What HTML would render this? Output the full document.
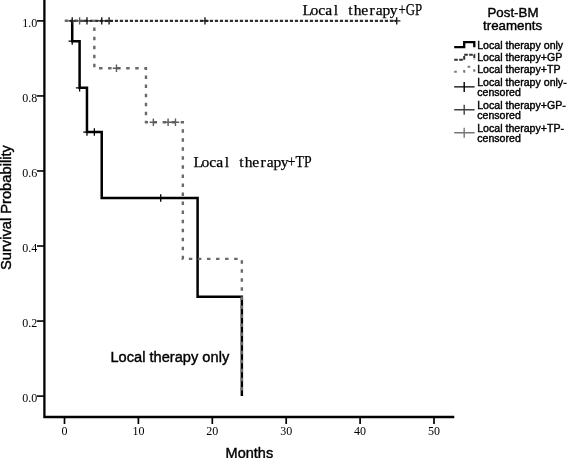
<!DOCTYPE html>
<html><head><meta charset="utf-8"><title>Survival Probability</title>
<style>
html,body{margin:0;padding:0;background:#fff}
svg{display:block}
.tk{font-family:"Liberation Serif","Noto Serif CJK SC",serif;font-size:12px;fill:#000}
.sf{font-family:"Liberation Serif","Noto Serif CJK SC",serif;fill:#000;stroke:#000;stroke-width:0.25px}
.ar{font-family:"Liberation Sans",Arial,sans-serif;fill:#000;stroke:#000;stroke-width:0.4px}
.lg{font-size:10.6px}
</style></head><body>
<svg width="567" height="458" viewBox="0 0 567 458">
<rect width="567" height="458" fill="#fff"/>
<path d="M44.4,0V417H454.3" stroke="#000" stroke-width="2.3" fill="none" stroke-linejoin="miter"/>
<path d="M37,396.1H44" stroke="#000" stroke-width="1.6"/>
<text x="37.2" y="401.90000000000003" text-anchor="end" class="tk">0.0</text>
<path d="M37,321.06H44" stroke="#000" stroke-width="1.6"/>
<text x="37.2" y="326.86" text-anchor="end" class="tk">0.2</text>
<path d="M37,246.02H44" stroke="#000" stroke-width="1.6"/>
<text x="37.2" y="251.82000000000002" text-anchor="end" class="tk">0.4</text>
<path d="M37,170.98H44" stroke="#000" stroke-width="1.6"/>
<text x="37.2" y="176.78" text-anchor="end" class="tk">0.6</text>
<path d="M37,95.94H44" stroke="#000" stroke-width="1.6"/>
<text x="37.2" y="101.74" text-anchor="end" class="tk">0.8</text>
<path d="M37,20.9H44" stroke="#000" stroke-width="1.6"/>
<text x="37.2" y="26.7" text-anchor="end" class="tk">1.0</text>
<path d="M64.5,417.5V424" stroke="#000" stroke-width="1.7"/>
<text x="64.5" y="435.4" text-anchor="middle" class="tk">0</text>
<path d="M138.4,417.5V424" stroke="#000" stroke-width="1.7"/>
<text x="138.4" y="435.4" text-anchor="middle" class="tk">10</text>
<path d="M212.3,417.5V424" stroke="#000" stroke-width="1.7"/>
<text x="212.3" y="435.4" text-anchor="middle" class="tk">20</text>
<path d="M286.2,417.5V424" stroke="#000" stroke-width="1.7"/>
<text x="286.2" y="435.4" text-anchor="middle" class="tk">30</text>
<path d="M360.1,417.5V424" stroke="#000" stroke-width="1.7"/>
<text x="360.1" y="435.4" text-anchor="middle" class="tk">40</text>
<path d="M434.0,417.5V424" stroke="#000" stroke-width="1.7"/>
<text x="434.0" y="435.4" text-anchor="middle" class="tk">50</text>
<path d="M72.22,20.9 H72.22 V41.16 H79.6 V87.84 H86.97 V132.07 H101.72 V197.99 H197.6 V296.75 H241.85 V396.1" stroke="#000" stroke-width="2.5" fill="none" stroke-linejoin="miter"/>
<path d="M64.85,20.9H396.73" stroke="#303030" stroke-width="2.3" fill="none" stroke-dasharray="3.2 1.8"/>
<path d="M64.85,20.9 H94.35 V68.18 H145.97 V122.28 H182.85 V258.89 H241.85 V396.1" stroke="#6a6a6a" stroke-width="2.4" fill="none" stroke-dasharray="3.5 5.55"/>
<path d="M68.52,41.16H75.92M72.22,37.459999999999994V44.86" stroke="#000" stroke-width="1.3" fill="none"/>
<path d="M75.89999999999999,87.84H83.3M79.6,84.14V91.54" stroke="#000" stroke-width="1.3" fill="none"/>
<path d="M83.27,132.07H90.67M86.97,128.37V135.76999999999998" stroke="#000" stroke-width="1.3" fill="none"/>
<path d="M90.64999999999999,132.07H98.05M94.35,128.37V135.76999999999998" stroke="#000" stroke-width="1.3" fill="none"/>
<path d="M157.02,197.99H164.42M160.72,194.29000000000002V201.69" stroke="#000" stroke-width="1.3" fill="none"/>
<path d="M68.52,20.9H75.92M72.22,17.2V24.599999999999998" stroke="#1c1c1c" stroke-width="1.4" fill="none"/>
<path d="M83.27,20.9H90.67M86.97,17.2V24.599999999999998" stroke="#1c1c1c" stroke-width="1.4" fill="none"/>
<path d="M98.02,20.9H105.42M101.72,17.2V24.599999999999998" stroke="#1c1c1c" stroke-width="1.4" fill="none"/>
<path d="M105.39999999999999,20.9H112.8M109.1,17.2V24.599999999999998" stroke="#1c1c1c" stroke-width="1.4" fill="none"/>
<path d="M201.27,20.9H208.67M204.97,17.2V24.599999999999998" stroke="#1c1c1c" stroke-width="1.4" fill="none"/>
<path d="M393.03000000000003,20.9H400.43M396.73,17.2V24.599999999999998" stroke="#1c1c1c" stroke-width="1.4" fill="none"/>
<path d="M75.89999999999999,20.9H83.3M79.6,17.2V24.599999999999998" stroke="#5c5c5c" stroke-width="1.4" fill="none"/>
<path d="M112.77,68.18H120.17M116.47,64.48V71.88000000000001" stroke="#5c5c5c" stroke-width="1.4" fill="none"/>
<path d="M149.65,122.28H157.04999999999998M153.35,118.58V125.98" stroke="#5c5c5c" stroke-width="1.4" fill="none"/>
<path d="M164.4,122.28H171.79999999999998M168.1,118.58V125.98" stroke="#5c5c5c" stroke-width="1.4" fill="none"/>
<path d="M171.77,122.28H179.17M175.47,118.58V125.98" stroke="#5c5c5c" stroke-width="1.4" fill="none"/>
<text transform="scale(1.0,1)" x="307.20 314.40 321.60 328.80 336.00 343.20 350.40 357.60 364.80 372.00 379.20 386.40 393.60" y="15" text-anchor="middle" class="sf" font-size="15.6">Local therapy</text>
<text x="398.6" y="15" class="sf" font-size="16.8" textLength="23.6" lengthAdjust="spacingAndGlyphs">+GP</text>
<text transform="scale(1.0,1)" x="198.20 205.40 212.60 219.80 227.00 234.20 241.40 248.60 255.80 263.00 270.20 277.40 284.60" y="167" text-anchor="middle" class="sf" font-size="15.6">Local therapy</text>
<text x="287.8" y="167" class="sf" font-size="16.8" textLength="23.8" lengthAdjust="spacingAndGlyphs">+TP</text>
<text x="110.4" y="362" class="ar" font-size="14.65">Local therapy only</text>
<text x="249.4" y="458" text-anchor="middle" class="ar" font-size="14.5">Months</text>
<text transform="translate(11.1,207.6) rotate(-90)" text-anchor="middle" class="ar" font-size="14.7">Survival Probability</text>
<text x="513" y="17.4" text-anchor="middle" class="ar" font-size="13.3">Post-BM</text>
<text x="512.6" y="30.3" text-anchor="middle" class="ar" font-size="13.3">treaments</text>
<text x="477.2" y="49.1" class="ar lg">Local therapy only</text>
<text x="477.2" y="60.7" class="ar lg">Local therapy+GP</text>
<text x="477.2" y="72.6" class="ar lg">Local therapy+TP</text>
<text x="477.2" y="86.3" class="ar lg">Local therapy only-</text>
<text x="477.2" y="95.8" class="ar lg">censored</text>
<text x="477.2" y="109.2" class="ar lg">Local therapy+GP-</text>
<text x="477.2" y="119.1" class="ar lg">censored</text>
<text x="477.2" y="132.0" class="ar lg">Local therapy+TP-</text>
<text x="477.2" y="142.0" class="ar lg">censored</text>
<path d="M454.2,47.2H464.2V42.2H474.3V47.2" stroke="#000" stroke-width="2.3" fill="none"/>
<path d="M454.2,59.7H464.2V54.7H474.3V59.7" stroke="#303030" stroke-width="2" fill="none" stroke-dasharray="3.6 1.4"/>
<path d="M454.2,71.7H464.2V66.7H474.3V71.7" stroke="#787878" stroke-width="2.1" fill="none" stroke-dasharray="2.6 6.6"/>
<path d="M454.2,86.9H474.6M464.2,81.9V91.9" stroke="#000" stroke-width="1.4" fill="none"/>
<path d="M454.2,109.8H474.6M464.2,104.8V114.8" stroke="#404040" stroke-width="1.4" fill="none"/>
<path d="M454.2,132.8H474.6M464.2,127.80000000000001V137.8" stroke="#777" stroke-width="1.4" fill="none"/>
</svg>
</body></html>
